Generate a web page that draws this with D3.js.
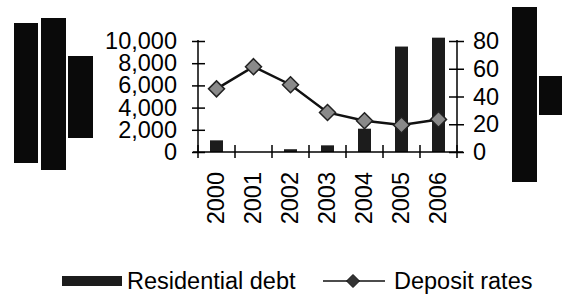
<!DOCTYPE html>
<html>
<head>
<meta charset="utf-8">
<script src="https://cdn.jsdelivr.net/npm/d3@7"></script>
<style>
  body { margin: 0; background: #fff; }
  svg { display: block; font-family: "Liberation Sans", Arial, sans-serif; }
</style>
</head>
<body>
<div id="chart"></div>
<script>
// data
var years = ["2000", "2001", "2002", "2003", "2004", "2005", "2006"];
var residentialDebt = [1050, 0, 250, 600, 2100, 9500, 10300];
var depositRates = [45.5, 61.5, 48.5, 28.5, 22.5, 19.5, 23.5];
var leftTicks = [0, 2000, 4000, 6000, 8000, 10000];
var rightTicks = [0, 20, 40, 60, 80];

var w = 562, h = 296;
var barColor = "#1c1c1c";
var fontSize = "23.5px";

var svg = d3.select("#chart")
  .append("svg")
  .attr("width", w)
  .attr("height", h);

// scan artifacts (black blocks at both sides)
var blocks = [[14, 23, 24, 140], [41, 18, 25, 152], [68, 56, 25, 82], [512, 7, 25, 175], [539, 76, 23, 39]];
svg.selectAll("rect.block")
  .data(blocks)
  .enter()
  .append("rect")
  .attr("class", "block")
  .attr("x", function(d) { return d[0]; })
  .attr("y", function(d) { return d[1]; })
  .attr("width", function(d) { return d[2]; })
  .attr("height", function(d) { return d[3]; })
  .attr("fill", "#0a0a0a");

// scales
var x = d3.scaleBand()
  .domain(years)
  .range([198, 457])
  .padding(0);

var yL = d3.scaleLinear().domain([0, 10000]).range([152, 41]);
var yR = d3.scaleLinear().domain([0, 80]).range([152, 41]);

// bars
var barW = 13;
svg.selectAll("rect.bar")
  .data(years)
  .enter()
  .append("rect")
  .attr("class", "bar")
  .attr("x", function(d) { return x(d) + x.bandwidth() / 2 - barW / 2; })
  .attr("y", function(d, i) { return yL(residentialDebt[i]); })
  .attr("width", barW)
  .attr("height", function(d, i) { return yL(0) - yL(residentialDebt[i]); })
  .attr("fill", barColor);

// left axis
var leftAxis = svg.append("g")
  .attr("transform", "translate(198,0)")
  .call(d3.axisLeft(yL).tickValues(leftTicks).tickSize(6).tickPadding(15)
    .tickFormat(d3.format(",")));
leftAxis.selectAll(".tick line").attr("x1", 7).attr("stroke-width", 1.5);
leftAxis.select(".domain").attr("d", "M0,40V153").attr("stroke-width", 1.5);

// right axis
var rightAxis = svg.append("g")
  .attr("transform", "translate(457,0)")
  .call(d3.axisRight(yR).tickValues(rightTicks).tickSize(7).tickPadding(9));
rightAxis.selectAll(".tick line").attr("x1", -8).attr("stroke-width", 1.5);
rightAxis.select(".domain").attr("d", "M0,40V153").attr("stroke-width", 1.5);

svg.selectAll(".tick text")
  .attr("font-size", fontSize)
  .attr("font-family", "'Liberation Sans', Arial, sans-serif")
  .attr("fill", "#000");

// bottom axis line and ticks at band edges
svg.append("line")
  .attr("x1", 193).attr("x2", 463)
  .attr("y1", yL(0)).attr("y2", yL(0))
  .attr("stroke", "#000").attr("stroke-width", 1.5);

var edges = years.map(function(d) { return x(d); }).concat([x.range()[1]]);
svg.selectAll("line.xtick")
  .data(edges)
  .enter()
  .append("line")
  .attr("class", "xtick")
  .attr("x1", function(d) { return d; })
  .attr("x2", function(d) { return d; })
  .attr("y1", 145).attr("y2", 158)
  .attr("stroke", "#000").attr("stroke-width", 1.5);

// year labels, rotated
svg.selectAll("text.year")
  .data(years)
  .enter()
  .append("text")
  .attr("class", "year")
  .attr("transform", function(d) { return "translate(" + (x(d) + x.bandwidth() / 2 - 1) + ",172) rotate(-90)"; })
  .attr("text-anchor", "end")
  .attr("dy", "0.36em")
  .attr("font-size", fontSize)
  .text(function(d) { return d; });

// deposit rate line
var line = d3.line()
  .x(function(d, i) { return x(years[i]) + x.bandwidth() / 2; })
  .y(function(d) { return yR(d); });

svg.append("path")
  .datum(depositRates)
  .attr("d", line)
  .attr("fill", "none")
  .attr("stroke", "#111")
  .attr("stroke-width", 2.5);

function diamond(r) {
  return "M0," + (-r) + "L" + r + ",0L0," + r + "L" + (-r) + ",0Z";
}

svg.selectAll("path.marker")
  .data(depositRates)
  .enter()
  .append("path")
  .attr("class", "marker")
  .attr("d", diamond(8))
  .attr("transform", function(d, i) { return "translate(" + (x(years[i]) + x.bandwidth() / 2) + "," + yR(d) + ")"; })
  .attr("fill", "#8a8a8a")
  .attr("stroke", "#222")
  .attr("stroke-width", 1.5);

// legend
var legend = svg.append("g");
legend.append("rect")
  .attr("x", 62).attr("y", 276)
  .attr("width", 60).attr("height", 10)
  .attr("fill", barColor);
legend.append("text")
  .attr("x", 127).attr("y", 289)
  .attr("font-size", fontSize)
  .text("Residential debt");
legend.append("line")
  .attr("x1", 323).attr("x2", 385)
  .attr("y1", 281).attr("y2", 281)
  .attr("stroke", "#111").attr("stroke-width", 1.5);
legend.append("path")
  .attr("d", diamond(6.5))
  .attr("transform", "translate(353,281)")
  .attr("fill", "#333")
  .attr("stroke", "#111");
legend.append("text")
  .attr("x", 394).attr("y", 289)
  .attr("font-size", fontSize)
  .text("Deposit rates");
</script>
</body>
</html>
